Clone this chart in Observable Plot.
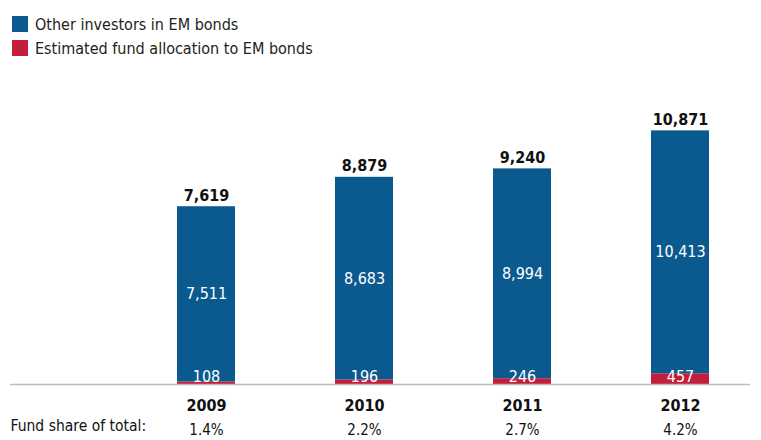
<!DOCTYPE html>
<html>
<head>
<meta charset="utf-8">
<script src="https://cdn.jsdelivr.net/npm/d3@7"></script>
<script src="https://cdn.jsdelivr.net/npm/@observablehq/plot@0.6"></script>
<style>
  body { margin: 0; background: #fff; font-family: "DejaVu Sans Condensed", sans-serif; }
  #legend { height: 62px; box-sizing: border-box; padding: 12px 0 0 12px; font-size: 16px; color: #222; }
  .item { display: flex; align-items: center; height: 24px; }
  .sw { width: 16px; height: 16px; margin-right: 7px; }
</style>
</head>
<body>
<div id="legend"></div>
<div id="chart"></div>
<script>
const years = ["2009", "2010", "2011", "2012"];
const other = [7511, 8683, 8994, 10413];
const fund = [108, 196, 246, 457];
const totals = [7619, 8879, 9240, 10871];
const shares = ["1.4%", "2.2%", "2.7%", "4.2%"];
const seriesNames = ["Other investors in EM bonds", "Estimated fund allocation to EM bonds"];
const colors = ["#0b5a8f", "#c41e3a"];

const legend = document.getElementById("legend");
seriesNames.forEach((n, i) => {
  const d = document.createElement("div");
  d.className = "item";
  d.innerHTML = `<span class="sw" style="background:${colors[i]}"></span><span>${n}</span>`;
  legend.appendChild(d);
});

const rows = years.map((y, i) => ({year: y, other: other[i], fund: fund[i], total: totals[i], share: shares[i]}));
const stacked = [];
rows.forEach(r => {
  stacked.push({year: r.year, series: seriesNames[1], value: r.fund, order: 0});
  stacked.push({year: r.year, series: seriesNames[0], value: r.other, order: 1});
});

const font = "'DejaVu Sans Condensed', sans-serif";
const chart = Plot.plot({
  width: 761,
  height: 378,
  marginLeft: 10,
  marginRight: 11,
  marginTop: 42,
  marginBottom: 56,
  style: {fontFamily: font, fontSize: "16px", color: "#111", background: "#fff", overflow: "visible"},
  x: {domain: years, paddingInner: 0.633, paddingOuter: 0.658, align: 0.8025, label: null, axis: null},
  y: {domain: [0, 12000], axis: null},
  color: {domain: seriesNames, range: colors},
  marks: [
    Plot.barY(stacked, {x: "year", y: "value", fill: "series", order: "order"}),
    Plot.ruleY([0], {stroke: "#bbb", strokeWidth: 1.5}),
    Plot.text(rows, {x: "year", y: "total", text: d => d3.format(",")(d.total), dy: -11, fontWeight: "bold", fill: "#111", fontSize: 16}),
    Plot.text(rows, {x: "year", y: d => d.fund + d.other / 2, text: d => d3.format(",")(d.other), fill: "white", fontSize: 16}),
    Plot.text(rows, {x: "year", y: 0, text: d => d3.format(",")(d.fund), dy: -8, fill: "white", fontSize: 16}),
    Plot.text(rows, {x: "year", y: 0, text: "year", dy: 21, fontWeight: "bold", fill: "#111", fontSize: 16}),
    Plot.text(rows, {x: "year", y: 0, text: "share", dy: 46, fill: "#111", fontSize: 15}),
    Plot.text(["Fund share of total:"], {frameAnchor: "bottom-left", text: d => d, dy: 46, textAnchor: "start", fill: "#111", fontSize: 15.5})
  ]
});
document.getElementById("chart").appendChild(chart);
</script>
</body>
</html>
